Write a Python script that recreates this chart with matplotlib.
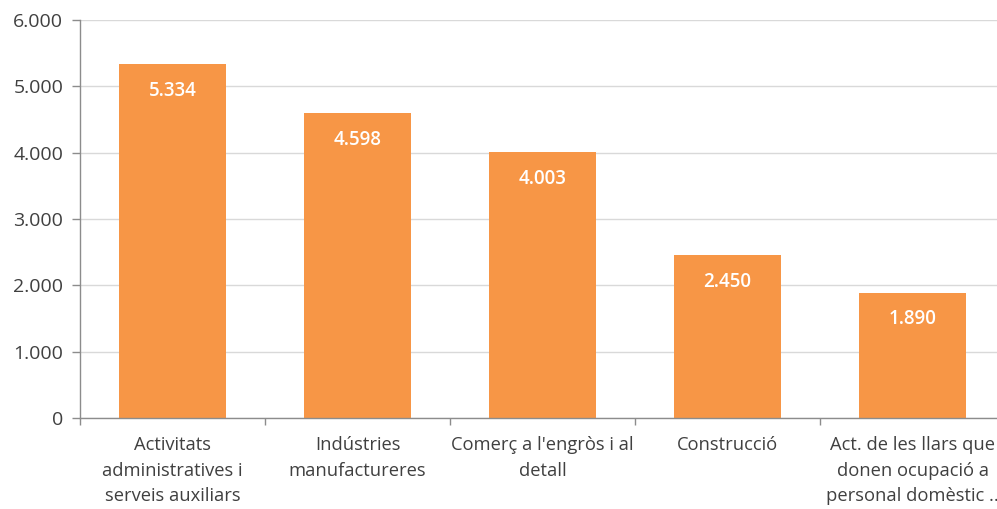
import matplotlib.pyplot as plt
from matplotlib.ticker import FuncFormatter

categories = [
    "Activitats\nadministratives i\nserveis auxiliars",
    "Indústries\nmanufactureres",
    "Comerç a l'engròs i al\ndetall",
    "Construcció",
    "Act. de les llars que\ndonen ocupació a\npersonal domèstic ..",
]
values = [5334, 4598, 4003, 2450, 1890]
yticks = [0, 1000, 2000, 3000, 4000, 5000, 6000]

BAR = "#F79646"
GRID = "#D9D9D9"
AXIS = "#8C8C8C"
TEXT = "#404040"


def fmt_thousands(v, pos=None):
    return f"{int(round(v)):,}".replace(",", ".")


plt.rcParams["font.family"] = ["Open Sans", "DejaVu Sans"]

fig = plt.figure(figsize=(9.97, 5.09), dpi=100)
ax = fig.add_axes([80 / 997, 1 - 418 / 509, 925 / 997, 398 / 509])

x = list(range(len(values)))
ax.bar(x, values, width=0.58, color=BAR, zorder=2)

for xi, v in zip(x, values):
    ax.text(xi, v - 400, fmt_thousands(v), ha="center", va="center",
            color="white", fontsize=13.5, fontweight="semibold", zorder=3)

ax.set_xlim(-0.5, len(values) - 0.5)
ax.set_ylim(0, 6000)
ax.set_yticks(yticks)
ax.yaxis.set_major_formatter(FuncFormatter(fmt_thousands))
ax.grid(axis="y", color=GRID, linewidth=1, zorder=0)

ax.set_xticks([i - 0.5 for i in range(len(values) + 1)])
ax.set_xticklabels([])
ax.set_xticks(x, minor=True)
ax.set_xticklabels(categories, minor=True, fontsize=13.2, color=TEXT,
                   linespacing=1.55, va="top")
ax.tick_params(axis="x", which="minor", length=0, pad=13)
ax.tick_params(axis="x", which="major", length=5, color=AXIS, width=1)
ax.tick_params(axis="y", length=6, color=AXIS, width=1, labelsize=14,
               labelcolor=TEXT, pad=6)

for side in ("top", "right"):
    ax.spines[side].set_visible(False)
for side in ("left", "bottom"):
    ax.spines[side].set_color(AXIS)
    ax.spines[side].set_linewidth(1)

fig.savefig("out.png", dpi=100)
